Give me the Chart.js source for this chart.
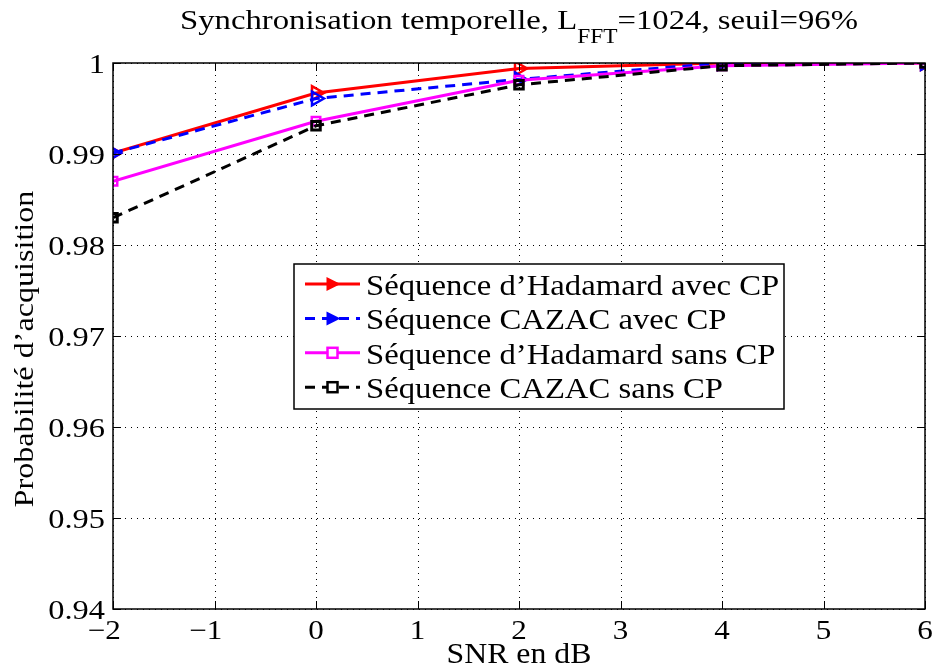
<!DOCTYPE html>
<html>
<head>
<meta charset="utf-8">
<script src="https://cdn.jsdelivr.net/npm/chart.js@4.4.1/dist/chart.umd.min.js"></script>
<style>
  html, body { margin: 0; padding: 0; background: #fff; }
  #wrap { width: 936px; height: 669px; }
</style>
</head>
<body>
<div id="wrap"><canvas id="c" width="936" height="669"></canvas></div>
<script>
// SNR values (dB)
const snr = [-2, 0, 2, 4, 6];
// Acquisition probability for each sequence type
const hadamardCP = [0.9901, 0.9967, 0.9994, 1.0, 1.0];
const cazacCP = [0.9901, 0.9961, 0.9982, 1.0, 1.0];
const hadamardNoCP = [0.9870, 0.9936, 0.9981, 0.9997, 1.0];
const cazacNoCP = [0.9830, 0.9931, 0.9976, 0.9997, 1.0];
// Axis ticks
const xTicks = [-2, -1, 0, 1, 2, 3, 4, 5, 6];
const yTicks = [0.94, 0.95, 0.96, 0.97, 0.98, 0.99, 1];
// Legend entries
const seriesNames = [
  "Séquence d\u2019Hadamard avec CP",
  "Séquence CAZAC avec CP",
  "Séquence d\u2019Hadamard sans CP",
  "Séquence CAZAC sans CP"
];
const titleMain = "Synchronisation temporelle, L";
const titleSub = "FFT";
const titleTail = "=1024, seuil=96%";
const xLabel = "SNR en dB";
const yLabel = "Probabilit\u00e9 d\u2019acquisition";

const SERIF = '"Liberation Serif", "DejaVu Serif", serif';

function pts(vals) { return snr.map((x, i) => ({ x: x, y: vals[i] })); }

const datasets = [
  { label: seriesNames[0], data: pts(hadamardCP), borderColor: '#ff0000', borderWidth: 3,
    pointStyle: 'triangle', pointRotation: 90, pointRadius: 8, pointBorderWidth: 2.5,
    pointBorderColor: '#ff0000', pointBackgroundColor: 'rgba(0,0,0,0)', order: 4 },
  { label: seriesNames[1], data: pts(cazacCP), borderColor: '#0000ff', borderWidth: 3, borderDash: [10, 7],
    pointStyle: 'triangle', pointRotation: 90, pointRadius: 8, pointBorderWidth: 2.5,
    pointBorderColor: '#0000ff', pointBackgroundColor: 'rgba(0,0,0,0)', order: 3 },
  { label: seriesNames[2], data: pts(hadamardNoCP), borderColor: '#ff00ff', borderWidth: 3,
    pointStyle: 'rect', pointRadius: 6, pointBorderWidth: 2.5,
    pointBorderColor: '#ff00ff', pointBackgroundColor: 'rgba(0,0,0,0)', order: 2 },
  { label: seriesNames[3], data: pts(cazacNoCP), borderColor: '#000000', borderWidth: 3, borderDash: [10, 7],
    pointStyle: 'rect', pointRadius: 6, pointBorderWidth: 3,
    pointBorderColor: '#000000', pointBackgroundColor: 'rgba(0,0,0,0)', order: 1 }
];

// Draw text with a horizontal stretch factor (sx), anchored at (x, baseline y)
function stretchedText(ctx, s, x, y, size, sx, align) {
  ctx.save();
  ctx.font = size + 'px ' + SERIF;
  ctx.textAlign = 'left';
  ctx.textBaseline = 'alphabetic';
  const w = ctx.measureText(s).width * sx;
  let left = x;
  if (align === 'center') left = x - w / 2;
  else if (align === 'right') left = x - w;
  ctx.translate(left, y);
  ctx.scale(sx, 1);
  ctx.fillText(s, 0, 0);
  ctx.restore();
  return w;
}

const decorations = {
  id: 'decorations',
  beforeDatasetsDraw(chart) {
    const { ctx, chartArea: a, scales } = chart;
    ctx.save();
    // dotted grid
    ctx.strokeStyle = '#000';
    ctx.lineWidth = 1;
    ctx.setLineDash([1, 5]);
    xTicks.forEach(v => {
      const x = Math.round(scales.x.getPixelForValue(v)) + 0.5;
      ctx.beginPath(); ctx.moveTo(x, a.top); ctx.lineTo(x, a.bottom); ctx.stroke();
    });
    yTicks.forEach(v => {
      const y = Math.round(scales.y.getPixelForValue(v)) + 0.5;
      ctx.beginPath(); ctx.moveTo(a.left, y); ctx.lineTo(a.right, y); ctx.stroke();
    });
    ctx.setLineDash([]);
    ctx.restore();
  },
  afterDatasetsDraw(chart) {
    const { ctx, chartArea: a, scales } = chart;
    ctx.save();
    // frame
    ctx.strokeStyle = '#000';
    ctx.lineWidth = 1.5;
    ctx.strokeRect(a.left, a.top, a.right - a.left, a.bottom - a.top);
    // inward tick marks
    ctx.lineWidth = 1;
    const tl = 8;
    xTicks.forEach(v => {
      const x = Math.round(scales.x.getPixelForValue(v)) + 0.5;
      ctx.beginPath();
      ctx.moveTo(x, a.bottom); ctx.lineTo(x, a.bottom - tl);
      ctx.moveTo(x, a.top); ctx.lineTo(x, a.top + tl);
      ctx.stroke();
    });
    yTicks.forEach(v => {
      const y = Math.round(scales.y.getPixelForValue(v)) + 0.5;
      ctx.beginPath();
      ctx.moveTo(a.left, y); ctx.lineTo(a.left + tl, y);
      ctx.moveTo(a.right, y); ctx.lineTo(a.right - tl, y);
      ctx.stroke();
    });
    ctx.fillStyle = '#000';

    // y tick labels
    yTicks.forEach(v => {
      const y = scales.y.getPixelForValue(v);
      stretchedText(ctx, String(Math.round(v * 100) / 100), a.left - 8, y + 10, 27, 1.2, 'right');
    });
    // x tick labels (digits centred on the tick, minus sign hanging left)
    xTicks.forEach(v => {
      const x = scales.x.getPixelForValue(v);
      const w = stretchedText(ctx, String(Math.abs(v)), x, a.bottom + 30, 27, 1.15, 'center');
      if (v < 0) stretchedText(ctx, '\u2212', x - w / 2, a.bottom + 30, 27, 1.15, 'right');
    });
    // axis titles
    stretchedText(ctx, xLabel, (a.left + a.right) / 2, 663, 30, 1.06, 'center');
    ctx.save();
    ctx.translate(33, 349);
    ctx.rotate(-Math.PI / 2);
    stretchedText(ctx, yLabel, 0, 0, 27, 1.19, 'center');
    ctx.restore();

    // title with subscript
    ctx.font = '28px ' + SERIF;
    const w1 = ctx.measureText(titleMain).width, w3 = ctx.measureText(titleTail).width;
    ctx.font = '20px ' + SERIF;
    const w2 = ctx.measureText(titleSub).width;
    const tsx = 678 / (w1 + w2 + w3);
    let tx = 180;
    tx += stretchedText(ctx, titleMain, tx, 29, 28, tsx, 'left');
    tx += stretchedText(ctx, titleSub, tx, 43, 20, tsx, 'left');
    stretchedText(ctx, titleTail, tx, 29, 28, tsx, 'left');

    // legend box
    const lx = 294, ly = 264, lw = 490, lh = 145;
    ctx.fillStyle = '#fff';
    ctx.fillRect(lx, ly, lw, lh);
    ctx.strokeStyle = '#000';
    ctx.lineWidth = 1.5;
    ctx.strokeRect(lx, ly, lw, lh);
    chart.data.datasets.forEach((ds, i) => {
      const base = 295 + i * 34.4;
      const cy = base - 11;
      const x0 = lx + 11, x1 = lx + 66;
      ctx.strokeStyle = ds.borderColor;
      ctx.lineWidth = 3;
      ctx.setLineDash(ds.borderDash || []);
      ctx.beginPath(); ctx.moveTo(x0, cy); ctx.lineTo(x1, cy); ctx.stroke();
      ctx.setLineDash([]);
      const mx = (x0 + x1) / 2;
      ctx.lineWidth = 2.5;
      if (ds.pointStyle === 'triangle') {
        ctx.fillStyle = ds.borderColor;
        ctx.beginPath();
        ctx.moveTo(mx - 6, cy - 7); ctx.lineTo(mx + 8, cy); ctx.lineTo(mx - 6, cy + 7); ctx.closePath();
        ctx.fill();
      } else {
        ctx.fillStyle = '#fff';
        ctx.fillRect(mx - 5, cy - 5, 10, 10);
        ctx.strokeRect(mx - 5, cy - 5, 10, 10);
      }
      ctx.fillStyle = '#000';
      stretchedText(ctx, ds.label, 366, base, 30, 1.09, 'left');
    });
    ctx.restore();
  }
};

new Chart(document.getElementById('c'), {
  type: 'line',
  data: { datasets: datasets },
  plugins: [decorations],
  options: {
    responsive: false,
    animation: false,
    layout: { padding: { top: 63, right: 11, left: 0, bottom: 0 } },
    plugins: { legend: { display: false }, tooltip: { enabled: false }, title: { display: false } },
    scales: {
      x: {
        type: 'linear', min: -2, max: 6,
        afterBuildTicks: s => { s.ticks = xTicks.map(v => ({ value: v })); },
        afterFit: s => { s.height = 60; },
        grid: { display: false, drawTicks: false },
        border: { display: false },
        ticks: { display: false }
      },
      y: {
        type: 'linear', min: 0.94, max: 1,
        afterBuildTicks: s => { s.ticks = yTicks.map(v => ({ value: v })); },
        afterFit: s => { s.width = 113; },
        grid: { display: false, drawTicks: false },
        border: { display: false },
        ticks: { display: false }
      }
    }
  }
});
</script>
</body>
</html>
